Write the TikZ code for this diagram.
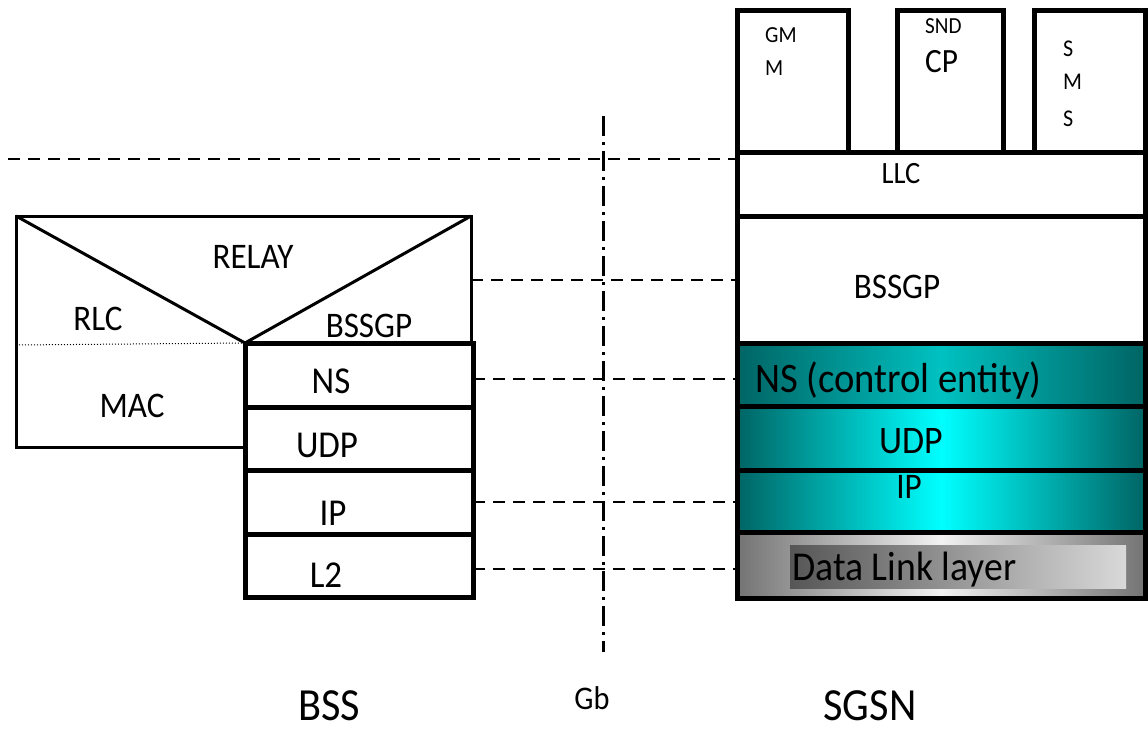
\documentclass[tikz,border=0pt]{standalone}
\usepackage{fontspec}
\setmainfont{Carlito}[FakeStretch=0.92]
\definecolor{tealdark}{RGB}{0,100,100}
\definecolor{aqua}{RGB}{0,255,255}
\definecolor{dlgray}{RGB}{115,115,115}
\begin{document}
\begin{tikzpicture}[x=1pt, y=-1pt,
	txt/.style={font=\fontsize{#1}{#1}\selectfont, anchor=base, inner sep=0pt},
	box/.style={draw, line width=5pt},
	thinbox/.style={draw, line width=3pt},
	link/.style={line width=2.5pt, dash pattern=on 12pt off 8pt},
	gbline/.style={line width=3pt, dash pattern=on 20pt off 6pt on 3pt off 6pt},
	tealband/.style={left color=tealdark, right color=tealdark, middle color=#1},
	tealband/.default=aqua]
	\useasboundingbox (0,0) rectangle (1148,731);
	% end points of the peer links
	\coordinate (leftend) at (8,159);
	\coordinate (llcW) at (737,159);
	\coordinate (bssgpE) at (471,280);
	\coordinate (sbssgpW) at (737,280);
	\coordinate (nsE) at (473,379);
	\coordinate (snsW) at (737,379);
	\coordinate (ipE) at (473,502);
	\coordinate (sipW) at (737,502);
	\coordinate (ltwoE) at (473,569);
	\coordinate (sdlW) at (737,569);
	\coordinate (gbtop) at (603,116);
	\coordinate (gbbot) at (603,652);
	\draw[link] (leftend) -- (llcW);
	\draw[link] (bssgpE) -- (sbssgpW);
	\draw[link] (nsE) -- (snsW);
	\draw[link] (ipE) -- (sipW);
	\draw[link] (ltwoE) -- (sdlW);
	\draw[gbline] (gbtop) -- (gbbot);
	% BSS
	\coordinate (relayTL) at (16,216);
	\coordinate (relayTR) at (471,216);
	\coordinate (vtip) at (245,343);
	\draw[thinbox] (vtip) -- (245,447) -- (16,447) -- (relayTL) -- (relayTR) -- (471,343);
	\draw[line width=3pt] (relayTL) -- (vtip) -- (relayTR);
	\draw[dotted, line width=1pt] (16,345) -- (vtip);
	\foreach \ya/\yb in {343/407, 407/470, 470/534, 534/597}
		\draw[box] (245,\ya) rectangle (473,\yb);
	\node[txt=36] (relay) at (253,268) {RELAY};
	\node[txt=36] (rlc) at (98,330) {RLC};
	\node[txt=36] (bssbssgp) at (369,337) {BSSGP};
	\node[txt=36] (mac) at (132,417) {MAC};
	\node[txt=38] (bssns) at (331,393) {NS};
	\node[txt=38] (bssudp) at (327,457) {UDP};
	\node[txt=38] (bssip) at (333,525) {IP};
	\node[txt=38] (bssltwo) at (326,587) {L2};
	% SGSN
	\shade[tealband=aqua!60!tealdark] (737,343) rectangle (1145,406);
	\shade[tealband] (737,406) rectangle (1145,470);
	\shade[tealband] (737,470) rectangle (1145,532);
	\shade[left color=dlgray, right color=dlgray, middle color=white!95!black] (737,532) rectangle (1145,598);
	\shade[left color=dlgray!75!black, right color=white!85!black] (790,545) rectangle (1126,588);
	\foreach \ya/\yb in {152/216, 216/343, 343/406, 406/470, 470/532, 532/598}
		\draw[box] (737,\ya) rectangle (1145,\yb);
	\draw[box] (737,10) rectangle (848,152);
	\draw[box] (897,10) rectangle (1003,152);
	\draw[box] (1034,10) rectangle (1145,152);
	\node[txt=23, anchor=base west] (gmmtop) at (765,42) {GM};
	\node[txt=23, anchor=base west] (gmmbot) at (765,75) {M};
	\node[txt=23, anchor=base west] (sndtop) at (925,33) {SND};
	\node[txt=34, anchor=base west] (sndbot) at (925,72) {CP};
	\node[txt=24, anchor=base west] (smsone) at (1063,56) {S};
	\node[txt=24, anchor=base west] (smstwo) at (1063,89) {M};
	\node[txt=24, anchor=base west] (smsthree) at (1063,126) {S};
	\node[txt=31] (llc) at (901,183) {LLC};
	\node[txt=36] (sgsnbssgp) at (897,298) {BSSGP};
	\node[txt=42, anchor=base west] (sgsnns) at (755,392) {NS (control entity)};
	\node[txt=39] (sgsnudp) at (911,453) {UDP};
	\node[txt=36] (sgsnip) at (909,498) {IP};
	\node[txt=41, anchor=base west] (datalink) at (792,580) {Data Link layer};
	% labels
	\node[txt=46] (bss) at (329,720) {BSS};
	\node[txt=33] (gb) at (592,709) {Gb};
	\node[txt=46] (sgsn) at (870,720) {SGSN};
\end{tikzpicture}
\end{document}
